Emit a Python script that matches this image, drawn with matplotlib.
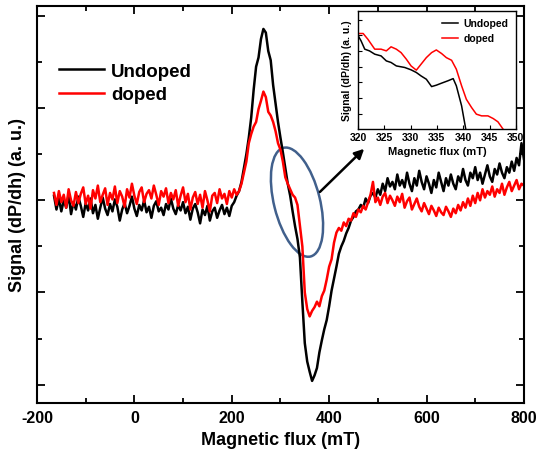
import numpy as np
import matplotlib
matplotlib.use('Agg')
import matplotlib.pyplot as plt
from matplotlib.patches import Ellipse
from matplotlib.transforms import ScaledTranslation

plt.rcParams['font.family'] = ['Liberation Sans', 'DejaVu Sans']
plt.rcParams['font.weight'] = 'bold'
plt.rcParams['axes.unicode_minus'] = False

# --- DATA (main panel), field in mT, signal in arbitrary units ---
field = np.arange(-165, 805, 5)

undoped = [
    0.05, -0.10, 0.02, -0.12, 0.00, -0.08, 0.06, -0.15, -0.02, -0.10,
    0.04, -0.06, -0.18, -0.03, -0.11, 0.02, -0.14, -0.05, -0.20, -0.08,
    0.03, -0.09, -0.16, -0.04, -0.12, 0.01, -0.07, -0.22, -0.10, -0.03,
    -0.14, -0.06, 0.04, -0.09, -0.17, -0.05, -0.11, 0.00, -0.13, -0.07,
    -0.19, -0.06, -0.01, -0.12, -0.08, -0.16, -0.04, -0.10, 0.02, -0.09,
    -0.15, -0.05, -0.11, -0.02, -0.14, -0.07, -0.21, -0.09, -0.04, -0.13,
    -0.25, -0.10, -0.16, -0.06, -0.22, -0.12, -0.08, -0.19, -0.11, -0.05,
    -0.15, -0.08, -0.17, -0.06, -0.02, 0.05, 0.10, 0.20, 0.35, 0.50,
    0.68, 0.90, 1.20, 1.45, 1.55, 1.75, 1.86, 1.82, 1.62, 1.52,
    1.25, 1.05, 0.85, 0.68, 0.52, 0.35, 0.18, 0.05, -0.12, -0.28,
    -0.42, -0.62, -1.10, -1.55, -1.75, -1.86, -1.96, -1.90, -1.82, -1.65,
    -1.52, -1.40, -1.30, -1.15, -0.98, -0.85, -0.72, -0.58, -0.50, -0.44,
    -0.36, -0.30, -0.22, -0.18, -0.12, -0.10, -0.05, -0.08, 0.02, -0.03,
    0.05, 0.08, 0.03, 0.12, 0.06, 0.18, 0.10, 0.24, 0.15, 0.20,
    0.12, 0.28, 0.16, 0.22, 0.14, 0.30, 0.18, 0.10, 0.24, 0.16,
    0.32, 0.20, 0.12, 0.26, 0.18, 0.08, 0.22, 0.14, 0.30, 0.20,
    0.10, 0.24, 0.16, 0.28, 0.18, 0.12, 0.26, 0.20, 0.34, 0.22,
    0.16, 0.30, 0.24, 0.36, 0.22, 0.30, 0.18, 0.28, 0.38, 0.26,
    0.20, 0.34, 0.28, 0.40, 0.30, 0.24, 0.36, 0.30, 0.42, 0.32,
    0.46, 0.38, 0.62, 0.45,
]

doped = [
    0.08, -0.05, 0.10, -0.02, 0.06, -0.08, 0.12, 0.00, -0.06, 0.09,
    -0.03, 0.07, 0.14, -0.04, 0.05, -0.09, 0.11, 0.02, 0.16, -0.02,
    0.06, 0.13, -0.05, 0.08, 0.01, 0.15, -0.03, 0.10, 0.04, -0.07,
    0.12, 0.03, 0.18, 0.05, -0.04, 0.09, 0.14, -0.02, 0.07, 0.11,
    0.02, 0.16, 0.06, -0.05, 0.10, 0.04, 0.13, -0.03, 0.08, 0.01,
    0.11, -0.06, 0.05, 0.14, -0.02, 0.07, -0.10, 0.03, 0.09, -0.04,
    0.06, -0.08, 0.10, 0.00, -0.12, 0.05, 0.08, -0.03, 0.12, 0.02,
    0.07, -0.04, 0.10, 0.03, 0.12, 0.06, 0.10, 0.18, 0.30, 0.42,
    0.62, 0.72, 0.80, 0.85, 0.99, 1.08, 1.18, 1.12, 0.96, 0.92,
    0.85, 0.75, 0.62, 0.55, 0.42, 0.25, 0.18, 0.12, 0.06, 0.03,
    -0.05, -0.28, -0.50, -1.00, -1.18, -1.26, -1.20, -1.16, -1.10, -1.15,
    -1.04, -0.98, -0.86, -0.72, -0.64, -0.46, -0.35, -0.30, -0.33, -0.24,
    -0.28, -0.20, -0.22, -0.14, -0.18, -0.10, -0.13, -0.06, -0.10, -0.02,
    0.06, 0.20, -0.02, 0.03, -0.05, 0.04, 0.08, -0.03, 0.05, 0.00,
    -0.06, 0.04, -0.02, 0.07, -0.08, -0.01, 0.03, -0.10, -0.04, 0.02,
    -0.07, -0.12, -0.03, -0.09, -0.15, -0.06, -0.11, -0.17, -0.08, -0.13,
    -0.16, -0.07, -0.12, -0.18, -0.09, -0.14, -0.05, -0.11, -0.02, -0.08,
    0.02, -0.06, 0.05, -0.03, 0.08, 0.00, 0.12, 0.03, 0.10, 0.06,
    0.15, 0.04, 0.12, 0.08, 0.18, 0.06, 0.14, 0.20, 0.10, 0.16,
    0.22, 0.12, 0.18, 0.16,
]

# --- DATA (inset, zoom on 320-350 mT) ---
inset_x_undoped = [320.0, 320.6, 321.3, 322.2, 323.2, 324.4, 325.4, 326.3, 327.3, 328.9, 330.1,
                   331.1, 332.0, 333.0, 334.0, 334.9, 335.9, 337.1, 338.1, 338.7, 339.7, 340.6]
inset_y_undoped = [6.00, 5.64, 5.11, 5.00, 4.79, 4.68, 4.36, 4.26, 4.04, 3.94, 3.79,
                   3.62, 3.40, 3.19, 2.72, 2.81, 2.94, 3.09, 3.23, 2.77, 1.49, -0.2]
inset_x_doped = [320.0, 321.0, 321.9, 323.2, 324.4, 325.4, 326.3, 327.3, 328.2, 329.2, 330.1,
                 331.1, 332.0, 333.0, 334.0, 334.9, 335.9, 336.8, 337.8, 338.7, 339.7, 340.6,
                 341.6, 342.5, 343.5, 344.7, 345.7, 346.6, 348.0]
inset_y_doped = [6.11, 6.11, 5.74, 5.11, 5.11, 5.00, 5.26, 5.11, 4.89, 4.47, 4.04,
                 3.77, 4.15, 4.57, 4.89, 5.06, 4.83, 4.57, 4.40, 3.83, 2.77, 1.91,
                 1.38, 0.96, 0.85, 0.85, 0.68, 0.47, -0.2]

# --- MAIN PLOT ---
fig = plt.figure(figsize=(5.39, 4.60), dpi=100)
ax = fig.add_axes([0.0686, 0.1217, 0.9034, 0.8633])

ax.plot(field, undoped, color='black', lw=1.8, label='Undoped')
ax.plot(field, doped, color='red', lw=1.8, label='doped')

ax.set_xlim(-200, 800)
ax.set_ylim(-2.2, 2.11)
ax.set_xticks([-200, 0, 200, 400, 600, 800])
ax.set_xticks(np.arange(-100, 800, 200), minor=True)
ax.set_yticks([-2, -1, 0, 1, 2])
ax.set_yticks([-1.5, -0.5, 0.5, 1.5], minor=True)
ax.set_yticklabels([])
ax.tick_params(which='both', direction='in', top=True, right=True, width=1.3)
ax.tick_params(which='major', length=6, labelsize=11.5, pad=5)
ax.tick_params(which='minor', length=3.5)
for sp in ax.spines.values():
    sp.set_linewidth(1.5)

ax.set_xlabel('Magnetic flux (mT)', fontsize=13, fontweight='bold', labelpad=4)
ax.set_ylabel('Signal (dP/dh) (a. u.)', fontsize=13, fontweight='bold', labelpad=3)

ax.legend(loc='upper left', bbox_to_anchor=(0.01, 0.90), frameon=False,
          fontsize=13.5, handlelength=2.4, handletextpad=0.4, labelspacing=0.35)

# ellipse around the crossing region, sized in inches so it keeps its shape
ell = Ellipse((0, 0), width=0.46, height=1.12, angle=14, fill=False,
              edgecolor='#41608c', lw=1.8,
              transform=fig.dpi_scale_trans + ScaledTranslation(334, -0.02, ax.transData))
ax.add_patch(ell)

ax.annotate('', xy=(476, 0.58), xytext=(377, 0.07),
            arrowprops=dict(arrowstyle='-|>', color='black', lw=1.8, mutation_scale=14))

# --- INSET ---
axin = fig.add_axes([0.664, 0.717, 0.293, 0.257])
axin.plot(inset_x_undoped, inset_y_undoped, color='black', lw=1.1, label='Undoped')
axin.plot(inset_x_doped, inset_y_doped, color='red', lw=1.1, label='doped')
axin.set_xlim(320, 350)
axin.set_ylim(0, 7.55)
axin.set_xticks(np.arange(320, 351, 5))
axin.set_yticks(np.arange(1, 8, 1))
axin.set_yticklabels([])
axin.tick_params(direction='in', length=3, width=0.8, labelsize=7.5, pad=2)
for sp in axin.spines.values():
    sp.set_linewidth(1.0)
axin.set_xlabel('Magnetic flux (mT)', fontsize=8, fontweight='bold', labelpad=3)
axin.set_ylabel('Signal (dP/dh) (a. u.)', fontsize=7.5, fontweight='bold', labelpad=2)
axin.legend(loc='upper right', frameon=False, fontsize=7.5, handlelength=1.6,
            handletextpad=0.5, labelspacing=0.5, borderaxespad=0.3)

fig.savefig('out.png', dpi=100)
